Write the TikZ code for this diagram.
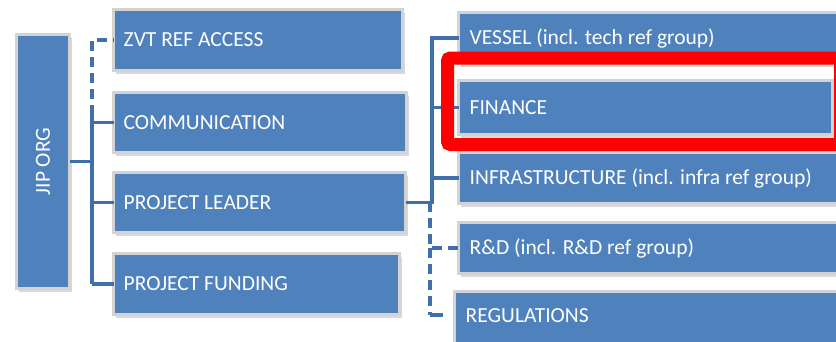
\documentclass[tikz,border=0pt]{standalone}
\usepackage{fontspec}
\setmainfont{Carlito}
\usetikzlibrary{shadows}
\definecolor{boxblue}{HTML}{4F81BD}
\definecolor{boxgray}{HTML}{D3D3D3}
\definecolor{connblue}{HTML}{416FAA}
\definecolor{hired}{HTML}{FF0000}
\tikzset{
  orgbox/.style={rectangle, anchor=north west, fill=boxblue, draw=boxgray, line width=3pt,
    drop shadow={shadow xshift=2pt, shadow yshift=-3pt, fill=black!25, opacity=0.6},
    text=white, align=left, inner sep=0pt, outer sep=0pt},
  conn/.style={draw=connblue, line width=3.5pt},
  dconn/.style={draw=connblue, line width=3.5pt, dash pattern=on 10pt off 6pt},
  lbl/.style={anchor=west, text=white, font=\fontsize{21.5}{25}\selectfont, inner sep=0pt},
}
\begin{document}
\begin{tikzpicture}[x=1pt,y=-1pt]
\useasboundingbox (0,0) rectangle (836,341);
\clip (0,0) rectangle (836,341);
% coordinates for trunks
\coordinate (lt) at (92,115);
\coordinate (ltb) at (92,284);
\coordinate (ltop) at (92,40);
\coordinate (rt) at (432,202);
\coordinate (rdash) at (430,202);
\coordinate (regc) at (430,315);
\coordinate (regend) at (443,315);
% boxes
\node[orgbox, minimum width=53pt, minimum height=254pt] (jip) at (16.5,34.5) {};
\node[rotate=90, text=white, font=\fontsize{21.5}{25}\selectfont, inner sep=0pt] (jipt) at (jip.center) {JIP ORG};
\node[orgbox, minimum width=289pt, minimum height=61pt] (zvt) at (113.5,9.5) {};
\node[orgbox, minimum width=293pt, minimum height=60pt] (comm) at (113.5,92.5) {};
\node[orgbox, minimum width=292pt, minimum height=60pt] (pl) at (113.5,172.5) {};
\node[orgbox, minimum width=286pt, minimum height=61pt] (pf) at (113.5,253.5) {};
\node[orgbox, minimum width=420pt, minimum height=51pt] (vessel) at (458.5,12.5) {};
\node[orgbox, minimum width=374pt, minimum height=54pt] (fin) at (458.5,80.5) {};
\node[orgbox, minimum width=420pt, minimum height=51pt] (infra) at (458.5,152.5) {};
\node[orgbox, minimum width=420pt, minimum height=51pt] (rd) at (458.5,222.5) {};
\node[orgbox, minimum width=420pt, minimum height=60pt] (reg) at (454.5,291.5) {};
% connectors
\draw[conn] (jip.east) -- (jip.east -| lt);
\draw[conn] (lt) -- (ltb);
\draw[conn] (comm.west -| lt) -- (comm.west);
\draw[conn] (pl.west -| lt) -- (pl.west);
\draw[conn] (pf.west -| lt) -- (pf.west);
\draw[dconn] (lt) -- (ltop) -- (zvt.west);
\draw[conn] (pl.east) -- (pl.east -| rt) |- (vessel.west);
\draw[conn] (fin.west -| rt) -- (fin.west);
\draw[conn] (infra.west -| rt) -- (infra.west);
\draw[dconn] (rdash) |- (rd.west);
\draw[dconn] (rd.west -| rdash) -- (regc);
\draw[conn] (regc) -- (regend);
% texts
\node[lbl] (t1) at ([xshift=10pt]zvt.west) {ZVT REF ACCESS};
\node[lbl] (t2) at ([xshift=10pt]comm.west) {COMMUNICATION};
\node[lbl] (t3) at ([xshift=10pt]pl.west) {PROJECT LEADER};
\node[lbl] (t4) at ([xshift=10pt]pf.west) {PROJECT FUNDING};
\node[lbl] (t5) at ([xshift=11pt]vessel.west) {VESSEL (incl. tech ref group)};
\node[lbl] (t6) at ([xshift=11pt]fin.west) {FINANCE};
\node[lbl] (t7) at ([xshift=11pt]infra.west) {INFRASTRUCTURE (incl. infra ref group)};
\node[lbl] (t8) at ([xshift=11pt]rd.west) {R\&D (incl. R\&D ref group)};
\node[lbl] (t9) at ([xshift=11pt,yshift=6pt]reg.west) {REGULATIONS};
% highlight frame
\node[draw=hired, line width=13pt, rounded corners=3pt, anchor=north west, minimum width=393pt, minimum height=86.5pt, inner sep=0pt, outer sep=0pt] (hl) at (447.5,58) {};
\end{tikzpicture}
\end{document}
